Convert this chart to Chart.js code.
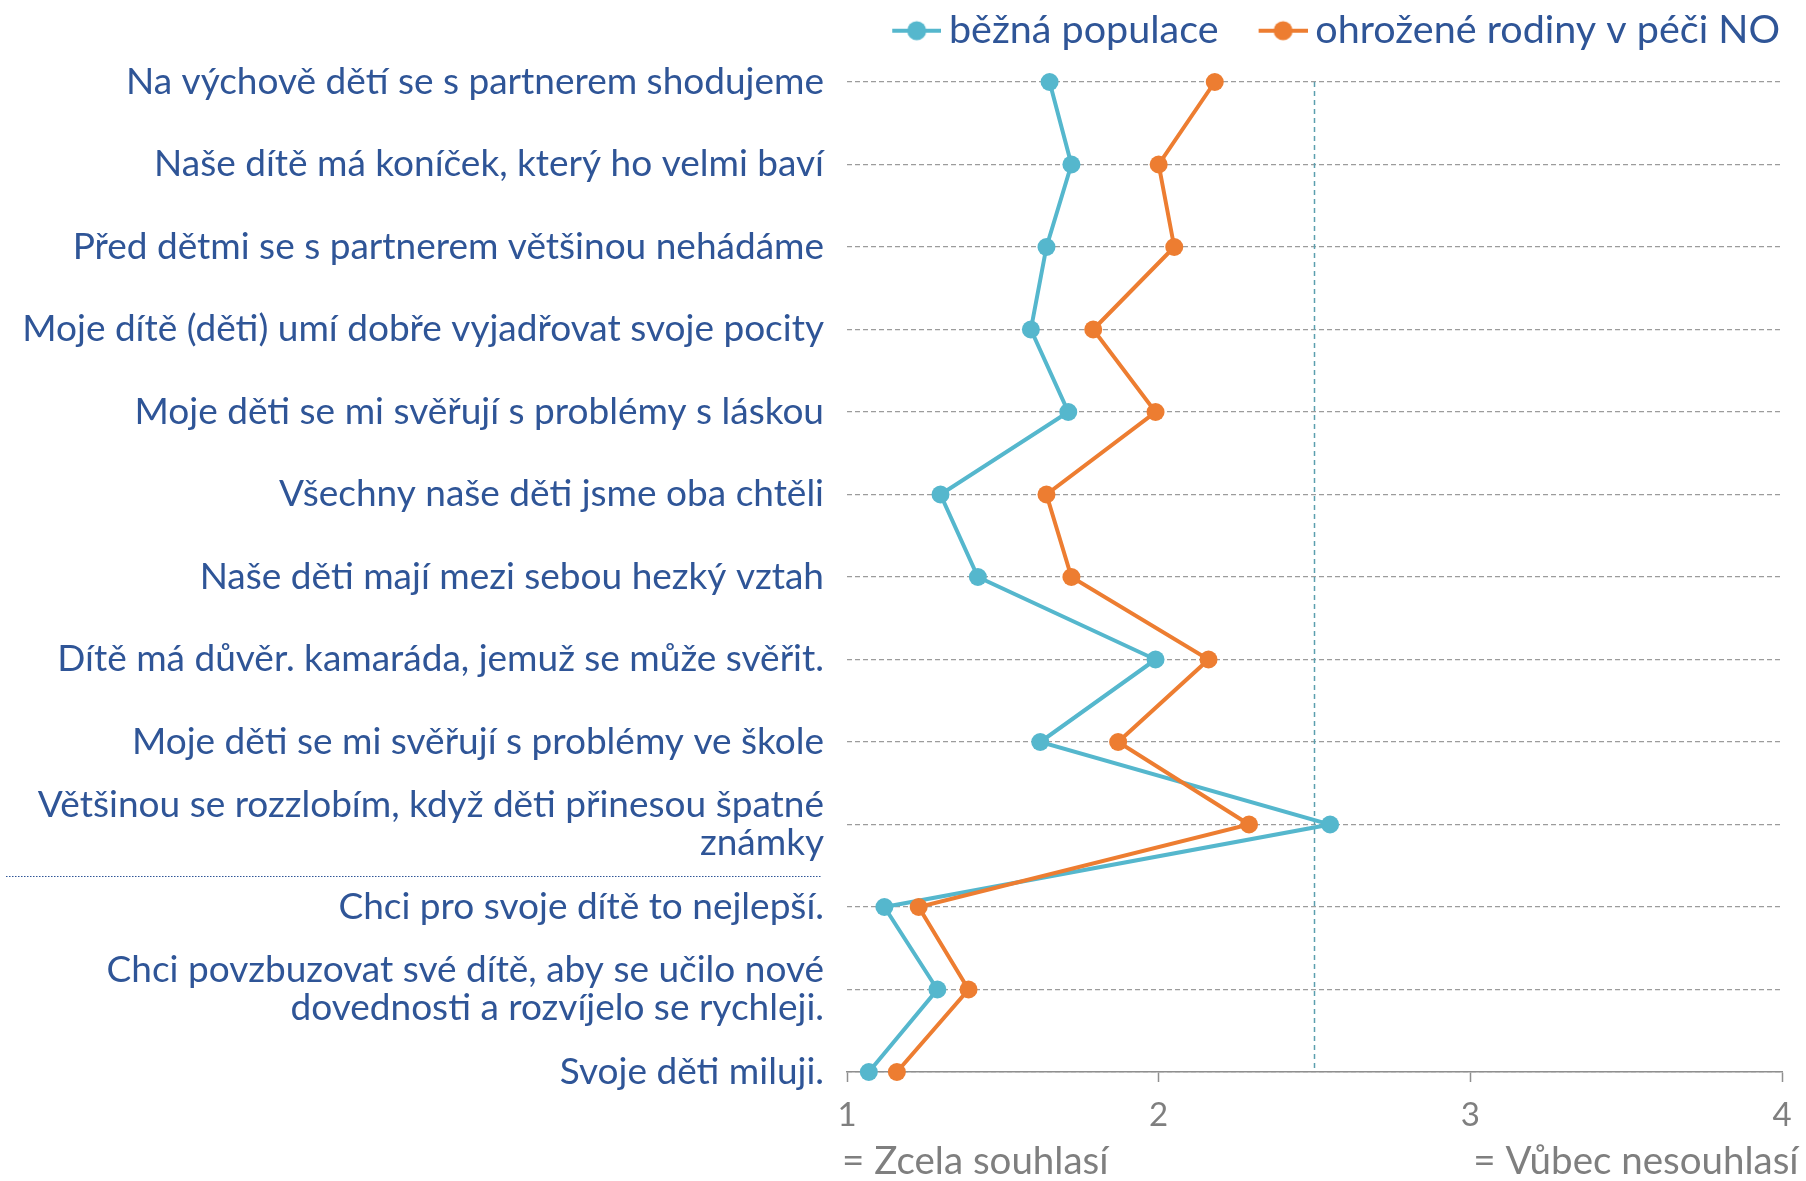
<!DOCTYPE html>
<html>
<head>
<meta charset="utf-8">
<script src="https://cdn.jsdelivr.net/npm/chart.js@4.4.1/dist/chart.umd.min.js"></script>
<style>
  html, body { margin: 0; padding: 0; background: #ffffff; }
  #wrap { width: 1806px; height: 1181px; position: relative; }
</style>
</head>
<body>
<div id="wrap"><canvas id="chart" width="1806" height="1181"></canvas></div>
<script>
// ---------- DATA ----------
const categories = [
  "Na výchově dětí se s partnerem shodujeme",
  "Naše dítě má koníček, který ho velmi baví",
  "Před dětmi se s partnerem většinou nehádáme",
  "Moje dítě (děti) umí dobře vyjadřovat svoje pocity",
  "Moje děti se mi svěřují s problémy s láskou",
  "Všechny naše děti jsme oba chtěli",
  "Naše děti mají mezi sebou hezký vztah",
  "Dítě má důvěr. kamaráda, jemuž se může svěřit.",
  "Moje děti se mi svěřují s problémy ve škole",
  ["Většinou se rozzlobím, když děti přinesou špatné", "známky"],
  "Chci pro svoje dítě to nejlepší.",
  ["Chci povzbuzovat své dítě, aby se učilo nové", "dovednosti a rozvíjelo se rychleji."],
  "Svoje děti miluji."
];
const seriesNames = ["běžná populace", "ohrožené rodiny v péči NO"];
const beznaPopulace = [1.65, 1.72, 1.64, 1.59, 1.71, 1.30, 1.42, 1.99, 1.62, 2.55, 1.12, 1.29, 1.07];
const ohrozeneRodiny = [2.18, 2.00, 2.05, 1.79, 1.99, 1.64, 1.72, 2.16, 1.87, 2.29, 1.23, 1.39, 1.16];
const xTickValues = [1, 2, 3, 4];
const scaleEndLabels = ["= Zcela souhlasí", "= Vůbec nesouhlasí"];
const scaleEndValues = [1, 3];
const midpointValue = 2.5;
const separatorAfterIndex = 9;

// ---------- STYLE ----------
const TEAL = "#55B7CD";
const ORANGE = "#ED7D31";
const LABEL_BLUE = "#2F5597";
const GRAY_TEXT = "#7F7F7F";
const FONT = "Lato";
const LABEL_SIZE = 37;
const LEGEND_SIZE = 39.5;

function makeMarker(color) {
  const c = document.createElement("canvas");
  c.width = 99; c.height = 24;
  const g = c.getContext("2d");
  g.strokeStyle = color; g.lineWidth = 4;
  g.beginPath(); g.moveTo(50, 12); g.lineTo(99, 12); g.stroke();
  g.fillStyle = color;
  g.beginPath(); g.arc(74.5, 12, 9.5, 0, Math.PI * 2); g.fill();
  return c;
}
const markers = [makeMarker(TEAL), makeMarker(ORANGE)];

const legendHeightPlugin = {
  id: "legendHeight",
  afterInit(chart) {
    const lg = chart.legend;
    if (!lg) return;
    const orig = lg.fit.bind(lg);
    lg.fit = function () { orig(); this.height = 73; };
  }
};

const decorPlugin = {
  id: "decor",
  afterDraw(chart) {
    const ctx = chart.ctx;
    const ys = chart.scales.y, xs = chart.scales.x;
    // separator line in label area
    const p0 = ys.getPixelForValue(separatorAfterIndex);
    const p1 = ys.getPixelForValue(separatorAfterIndex + 1);
    const sy = Math.round(p0 + 0.63 * (p1 - p0)) + 0.5;
    ctx.save();
    ctx.strokeStyle = LABEL_BLUE;
    ctx.lineWidth = 1;
    ctx.setLineDash([1.5, 1.5]);
    ctx.beginPath(); ctx.moveTo(6, sy); ctx.lineTo(821, sy); ctx.stroke();
    ctx.restore();
    // scale end texts
    ctx.save();
    ctx.font = "38.5px " + FONT;
    ctx.fillStyle = GRAY_TEXT;
    ctx.textAlign = "left";
    ctx.textBaseline = "alphabetic";
    ctx.fillText(scaleEndLabels[0], xs.getPixelForValue(scaleEndValues[0]) - 5, 1174);
    ctx.fillText(scaleEndLabels[1], xs.getPixelForValue(scaleEndValues[1]) + 3, 1174);
    ctx.restore();
  }
};

new Chart(document.getElementById("chart"), {
  type: "line",
  data: {
    labels: categories,
    datasets: [
      {
        label: seriesNames[0],
        data: beznaPopulace,
        borderColor: TEAL, backgroundColor: TEAL,
        borderWidth: 4, pointRadius: 9, pointHoverRadius: 9,
        pointBorderWidth: 0, pointBackgroundColor: TEAL,
        tension: 0, order: 2
      },
      {
        label: seriesNames[1],
        data: ohrozeneRodiny,
        borderColor: ORANGE, backgroundColor: ORANGE,
        borderWidth: 4, pointRadius: 9, pointHoverRadius: 9,
        pointBorderWidth: 0, pointBackgroundColor: ORANGE,
        tension: 0, order: 1
      },
      {
        label: "midpoint",
        data: [{ x: midpointValue, y: categories[0] }, { x: midpointValue, y: categories[categories.length - 1] }],
        borderColor: "#5B9FAE", borderWidth: 1.5, borderDash: [5, 4],
        pointRadius: 0, pointHoverRadius: 0, tension: 0, order: 3
      }
    ]
  },
  options: {
    indexAxis: "y",
    responsive: false,
    devicePixelRatio: 1,
    animation: false,
    layout: { padding: { top: 9, right: 24, bottom: 0, left: 0 } },
    plugins: {
      tooltip: { enabled: false },
      legend: {
        position: "top",
        align: "end",
        labels: {
          usePointStyle: true,
          pointStyleWidth: 75,
          padding: 2,
          color: LABEL_BLUE,
          font: { family: FONT, size: LEGEND_SIZE },
          filter: (item) => item.datasetIndex < 2,
          sort: (a, b) => a.datasetIndex - b.datasetIndex,
          generateLabels(chart) {
            const items = Chart.defaults.plugins.legend.labels.generateLabels(chart);
            items.forEach(it => { if (it.datasetIndex < 2) it.pointStyle = markers[it.datasetIndex]; });
            return items;
          }
        }
      }
    },
    scales: {
      y: {
        type: "category",
        offset: false,
        grid: { color: "#9C9C9C", lineWidth: 1.3, drawTicks: false },
        border: { display: false, dash: [5, 3] },
        ticks: {
          color: LABEL_BLUE,
          font: { family: FONT, size: LABEL_SIZE, lineHeight: 1.03 },
          padding: 23,
          autoSkip: false
        },
        afterFit(scale) { scale.width = 847; }
      },
      x: {
        type: "linear",
        min: 1, max: 4,
        grid: { drawOnChartArea: false, drawTicks: true, tickLength: 10, tickColor: "#8F8F8F", tickWidth: 1.5 },
        border: { display: true, color: "#8F8F8F", width: 1.5 },
        ticks: {
          color: GRAY_TEXT,
          font: { family: FONT, size: 33 },
          padding: 14
        },
        afterBuildTicks(scale) { scale.ticks = xTickValues.map(v => ({ value: v })); },
        afterFit(scale) { scale.height = 109; }
      }
    }
  },
  plugins: [legendHeightPlugin, decorPlugin]
});
</script>
</body>
</html>
